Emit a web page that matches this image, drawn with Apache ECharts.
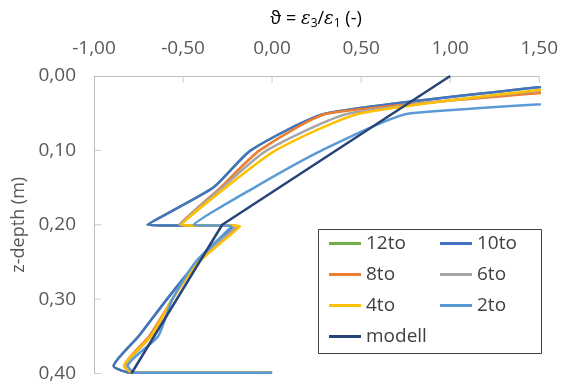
<!DOCTYPE html>
<html>
<head>
<meta charset="utf-8">
<script src="https://cdn.jsdelivr.net/npm/echarts@6/dist/echarts.min.js"></script>
<style>
html,body{margin:0;padding:0;background:#fff;}
#chart{width:561px;height:383px;}
</style>
</head>
<body>
<div id="chart"></div>
<script>
// depth (m) of each point
var depths = [0.00, 0.05, 0.10, 0.15, 0.20, 0.202, 0.25, 0.30, 0.35, 0.39, 0.399, 0.399];
// theta values per series
var s12to  = [2.11, 0.31, -0.12, -0.33, -0.70, -0.22, -0.42, -0.59, -0.75, -0.89, -0.79, 0.00];
var s10to  = [2.11, 0.31, -0.12, -0.33, -0.70, -0.22, -0.42, -0.59, -0.75, -0.89, -0.79, 0.00];
var s8to   = [2.78, 0.32, -0.07, -0.29, -0.52, -0.19, -0.42, -0.56, -0.69, -0.83, -0.78, -0.01];
var s6to   = [2.33, 0.44, -0.03, -0.28, -0.52, -0.20, -0.42, -0.56, -0.68, -0.82, -0.78, -0.01];
var s4to   = [2.22, 0.50, 0.02, -0.26, -0.51, -0.18, -0.41, -0.56, -0.68, -0.83, -0.78, -0.01];
var s2to   = [4.78, 0.78, 0.28, -0.10, -0.44, -0.23, -0.43, -0.56, -0.64, -0.81, -0.77, 0.00];
var modellDepth = [0.00, 0.20, 0.40];
var modellX = [1.00, -0.28, -0.79];

// tick values
var xTickValues = [-0.5, 0.0, 0.5, 1.0, 1.5];
var yTickValues = [0.1, 0.2, 0.3, 0.4];

var seriesNames = ['12to', '10to', '8to', '6to', '4to', '2to', 'modell'];
var seriesColors = ['#70AD47', '#4472C4', '#ED7D31', '#A5A5A5', '#FFC000', '#5B9BD5', '#264478'];
var xTicks = { min: -1, max: 1.5, step: 0.5 };
var yTicks = { min: 0, max: 0.4, step: 0.1 };

function pairs(xs, ds) { return xs.map(function (v, i) { return [v, ds[i]]; }); }
var measured = [s12to, s10to, s8to, s6to, s4to, s2to];

var chart = echarts.init(document.getElementById('chart'), null, { renderer: 'canvas' });
var FONT = 'Open Sans';
var fmt = function (v) { return v.toFixed(2).replace('.', ','); };

var series = measured.map(function (arr, i) {
  return {
    name: seriesNames[i], type: 'line', data: pairs(arr, depths),
    showSymbol: false, symbol: 'none', smooth: 0.2, clip: true,
    lineStyle: { width: 2.5, color: seriesColors[i] }, itemStyle: { color: seriesColors[i] }
  };
});
series.push({
  name: 'modell', type: 'line', data: pairs(modellX, modellDepth),
  showSymbol: false, symbol: 'none', smooth: false, clip: true,
  lineStyle: { width: 2.5, color: seriesColors[6] }, itemStyle: { color: seriesColors[6] }
});
// inward tick marks (drawn through the axes' scales)
series.push({
  name: 'xticks', type: 'scatter', silent: true, clip: false, z: 1,
  data: xTickValues.map(function (v) { return [v, yTicks.min]; }),
  symbol: 'rect', symbolSize: [1, 7], symbolOffset: [0, 3.5],
  itemStyle: { color: '#BFBFBF' }
});
series.push({
  name: 'yticks', type: 'scatter', silent: true, clip: false, z: 1,
  data: yTickValues.map(function (v) { return [xTicks.min, v]; }),
  symbol: 'rect', symbolSize: [7, 1], symbolOffset: [3.5, 0],
  itemStyle: { color: '#BFBFBF' }
});

var legendText = { fontFamily: FONT, fontSize: 19, color: '#404040' };
chart.setOption({
  animation: false,
  backgroundColor: '#fff',
  grid: { left: 94, right: 20, top: 76, bottom: 7, containLabel: false },
  xAxis: {
    type: 'value', position: 'top', min: xTicks.min, max: xTicks.max, interval: xTicks.step,
    axisLine: { show: true, onZero: false, lineStyle: { color: '#BFBFBF', width: 1 } },
    axisTick: { show: false },
    splitLine: { show: false },
    axisLabel: { formatter: fmt, fontFamily: FONT, fontSize: 19, color: '#595959', margin: 18 }
  },
  yAxis: {
    type: 'value', inverse: true, min: yTicks.min, max: yTicks.max, interval: yTicks.step,
    name: 'z-depth (m)', nameLocation: 'middle', nameGap: 56, nameRotate: 90,
    nameTextStyle: { fontFamily: FONT, fontSize: 18, color: '#595959' },
    axisLine: { show: true, onZero: false, lineStyle: { color: '#BFBFBF', width: 1 } },
    axisTick: { show: false },
    splitLine: { show: false },
    axisLabel: { formatter: fmt, fontFamily: FONT, fontSize: 19, color: '#595959', margin: 18 }
  },
  legend: [
    { data: ['12to', '8to', '4to', 'modell'], orient: 'vertical', left: 329, top: 234,
      icon: 'rect', itemWidth: 32, itemHeight: 3, itemGap: 12, textStyle: legendText, padding: 0, selectedMode: false },
    { data: ['10to', '6to', '2to'], orient: 'vertical', left: 440, top: 234,
      icon: 'rect', itemWidth: 32, itemHeight: 3, itemGap: 12, textStyle: legendText, padding: 0, selectedMode: false }
  ],
  graphic: [
    { type: 'rect', shape: { x: 318.5, y: 229.5, width: 223, height: 124 },
      style: { fill: null, stroke: '#404040', lineWidth: 1 }, z: 100 },
    { type: 'text', x: 316, y: 19, z: 100,
      style: {
        text: '{a|ϑ = }{e|ε}{s|3}{a|/}{e|ε}{s|1}{a| (-)}',
        align: 'center', verticalAlign: 'middle',
        rich: {
          a: { fontFamily: FONT, fontSize: 18, color: '#595959', lineHeight: 24 },
          e: { fontFamily: 'DejaVu Serif', fontStyle: 'italic', fontSize: 18, color: '#595959', lineHeight: 24 },
          s: { fontFamily: FONT, fontSize: 12, color: '#595959', lineHeight: 12, padding: [10, 0, 0, 0] }
        }
      }
    }
  ],
  series: series
});
</script>
</body>
</html>
